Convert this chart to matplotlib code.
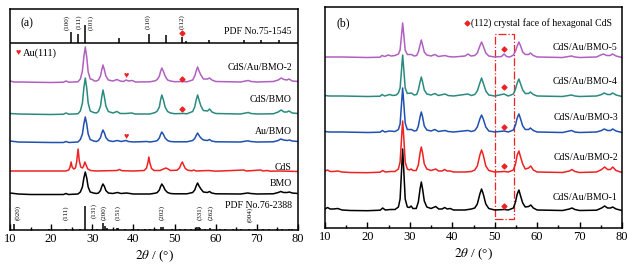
import numpy as np
import matplotlib
matplotlib.use('Agg')
import matplotlib.pyplot as plt
from matplotlib.patches import Rectangle

plt.rcParams['font.family'] = ['Liberation Serif', 'DejaVu Sans']
plt.rcParams['mathtext.fontset'] = 'stix'

# ---- panel (a) curves : (2theta, intensity above baseline) ----
bmo_a = [(10,2),(11,1.5),(12,1),(15,0.5),(20,0.5),(23,0.5),(23.6,1.5),(24.2,0.5),(26.5,1),(27.1,3),(27.6,8),
         (27.95,17),(28.3,23),(28.65,17),(29.0,8),(29.5,3),(30.3,2),(31.0,1.5),(31.5,2),(32.0,4.5),(32.3,8.5),
         (32.6,11),(32.95,8.5),(33.3,4.5),(33.9,2),(35,1.5),(36.1,2.5),(37,1.5),(38.3,2),(40,1),(44,1),(45.3,1.8),
         (45.8,2.5),(46.3,5),(46.6,8.5),(46.9,11),(47.3,8.5),(47.7,5),(48.3,2.5),(49,1.5),(50,1.2),(53,1.2),
         (54.4,2.5),(54.9,5),(55.25,9),(55.6,12),(55.95,9),(56.4,6),(57.0,3),(58.0,2.5),(58.5,3.5),(59,2),(60,1.2),
         (66,1),(67.8,2),(68.5,1.5),(70,1),(74,1.2),(75.2,2.5),(75.8,3.5),(76.5,2.5),(77.4,2.5),(77.9,3),(78.6,2),(80,1.5)]
cds_a = [(10,1),(15,1),(20,1),(23.5,1),(24.3,2),(24.6,5),(24.85,10),(25.1,5),(25.5,3),(25.9,4),(26.2,10),(26.55,23),
         (26.85,11),(27.2,5),(27.6,4),(27.9,6),(28.2,10),(28.5,7),(28.9,3),(29.6,1.5),(31,1),(36,1.5),(36.6,2.5),
         (37.2,1.3),(40,1),(42.6,1.5),(43.2,4),(43.5,9),(43.75,15),(44.0,9),(44.4,3.5),(45,1.5),(46.5,1.5),(47.3,3),
         (47.9,4),(48.4,3),(49,1.5),(50.6,1.8),(51.2,4),(51.6,8),(51.9,10),(52.2,7),(52.6,3.5),(53.2,1.8),(54.2,1.2),
         (54.7,2),(55.2,1),(58.3,1.5),(60,0.8),(66.8,2),(67.5,1),(70.9,2),(71.5,1),(72.5,1.5),(73.2,0.8),(75.5,1),(80,0.5)]
aubmo_a = [(10,2),(11,1.5),(12,1),(20,0.5),(23,0.5),(23.6,1.5),(24.3,0.5),(26.5,1),(27.1,3.5),(27.6,9),(27.95,19),
           (28.3,26),(28.65,19),(29.0,9),(29.5,3.5),(30.3,2),(31.0,1.5),(31.5,2.5),(32.0,5.5),(32.3,10),(32.6,13),
           (32.95,10),(33.3,5.5),(33.9,2.5),(35,1.5),(36.1,2.5),(37,1.5),(38.2,2.5),(38.8,1.5),(40,1),(43.3,1.5),
           (44,1),(45.3,1.8),(45.8,2.5),(46.3,5),(46.6,8.5),(46.9,11),(47.3,8.5),(47.7,5),(48.3,2.5),(49,1.5),(50,1.2),
           (53,1.2),(54.4,2.5),(54.9,4.5),(55.25,7.5),(55.6,10),(55.95,7.5),(56.4,5),(57.0,3),(58.0,2.5),(58.5,3.5),
           (59,2),(60,1.2),(66,1),(67.8,2.2),(68.5,1.5),(70,1),(74,1.2),(75.2,2.5),(75.8,4),(76.5,3),(77.4,2.5),
           (77.9,3),(78.6,2),(80,1.5)]
cdsbmo_a = [(10,1.5),(12,1),(20,0.5),(23,0.8),(23.6,2),(24.3,0.8),(26.5,1.2),(27.1,4),(27.6,12),(27.95,27),(28.3,37),
            (28.65,27),(29.0,12),(29.5,4),(30.3,2.5),(31.0,2),(31.5,3.5),(32.0,9),(32.3,18),(32.6,25),(32.95,18),
            (33.3,9),(33.9,3.5),(35,2),(36.0,3.5),(36.8,1.5),(38.2,1.5),(39.6,2),(40.4,1),(44,1),(45.3,2.5),(45.8,4),
            (46.3,8),(46.6,15),(46.9,20),(47.3,15),(47.7,8),(48.3,3.5),(49,2),(50,1.3),(52.2,1.5),(53,1.2),(54.4,3.5),
            (54.9,8),(55.25,15),(55.6,20),(55.95,15),(56.4,9),(57.0,4.5),(58.0,4),(58.5,6),(59.1,3),(60,1.5),(66,1),
            (67.9,2.5),(68.6,1.5),(70,1),(74,1.2),(75.2,3),(75.9,5),(76.6,3),(77.3,3),(77.8,4),(78.6,2),(80,1.5)]
cdsaubmo_a = [(10,2),(11,1),(12,1),(20,0.5),(23,0.8),(23.6,2),(24.3,0.8),(26.5,1.2),(27.1,4),(27.6,12),(27.95,26),
              (28.3,36),(28.65,26),(29.0,11),(29.5,4),(30.0,3.5),(30.5,2),(31.0,2),(31.5,3),(32.0,7),(32.3,13),(32.6,18),
              (32.95,13),(33.3,7),(33.9,3),(35,2),(36.0,3.5),(36.8,2),(37.6,1.5),(38.2,3),(38.8,2),(39.7,2.5),(40.5,1),
              (44,1.2),(45.3,2.2),(45.8,3.5),(46.3,7),(46.6,11.5),(46.9,15),(47.3,11.5),(47.7,7),(48.3,3),(49,2),
              (50,1.3),(52.2,1.5),(53,1.2),(54.4,3),(54.9,7),(55.25,12),(55.6,16),(55.95,12),(56.4,8),(57.0,4),
              (58.0,4),(58.5,5),(59.1,3),(60,1.5),(66,1),(67.9,2.5),(68.6,1.5),(70,1),(74,1.5),(75.2,3),(75.9,5),
              (76.6,3.5),(77.3,3),(77.8,4),(78.6,2),(80,1.5)]

names_a = ['BMO', 'CdS', 'Au/BMO', 'CdS/BMO', 'CdS/Au/BMO-2']
curves_a = [bmo_a, cds_a, aubmo_a, cdsbmo_a, cdsaubmo_a]

# PDF sticks
pdf_cds_pos = [24.8, 26.5, 28.2, 36.6, 43.7, 47.8, 51.8, 52.8, 58.3, 66.8, 70.9, 75.5]
pdf_cds_int = [11, 9, 18, 5, 9, 8, 6, 2.5, 3, 3, 3, 3]
pdf_bmo_pos = [10.9, 19.5, 23.5, 25.3, 27.0, 28.3, 29.9, 31.2, 32.6, 33.1, 33.6, 35.9, 36.3, 37.9, 39.6, 41.1,
               42.7, 44.1, 45.6, 46.8, 47.2, 49.4, 51.3, 52.6, 53.9, 55.5, 55.9, 56.3, 57.4, 58.5, 61.0, 62.3,
               64.3, 66.1, 68.2, 69.5, 71.4, 73.0, 75.0, 76.1, 77.8, 78.6]
pdf_bmo_int = [6, 1, 1.5, 1, 1, 24, 1, 1, 7, 4, 2, 2, 2, 1, 1.5, 1,
               1, 1, 1, 3, 3, 1, 1, 1, 1, 3, 3, 2, 1, 2, 1, 1,
               1, 1, 1.5, 1, 1, 1, 1, 1.5, 1.5, 1]
cds_hkl = ['(100)', '(111)', '(101)', '(110)', '(112)']
cds_hkl_x = [23.9, 26.7, 29.6, 43.6, 51.7]
bmo_hkl = ['(020)', '(111)', '(131)', '(200)', '(151)', '(202)', '(331)', '(262)', '(004)']
bmo_hkl_x = [11.9, 23.5, 30.4, 32.9, 36.3, 46.9, 56.1, 58.9, 68.3]
bmo_hkl_y = [17, 17, 20, 18, 17, 17, 17, 17, 16]

# ---- panel (b) curves ----
s1_b = [(10,2),(10.6,3.5),(11.2,2),(12,2),(13,2.5),(14,1),(16,0.5),(20,0.3),(23,0.8),(23.6,3),(24.2,1),(25.5,1.5),
        (26.5,1.5),(27.3,4),(27.7,12),(28.0,37),(28.3,62),(28.6,38),(28.9,12),(29.4,4),(29.9,3.5),(30.3,5),(30.7,2.5),
        (31.5,2.5),(32.0,9),(32.4,22),(32.7,29),(33.0,22),(33.4,10),(34,4),(35,2.5),(36.1,4.5),(36.8,2),(37.6,2),
        (38.2,3.5),(38.8,2),(39.5,2.5),(40.3,1),(43,1),(44.5,2),(45.3,3),(45.9,7),(46.5,17),(46.9,22),(47.3,17),
        (47.9,7),(48.6,2.5),(50,1),(52.3,1.5),(53.2,1),(54.4,3),(54.9,9),(55.3,17),(55.7,21),(56.1,15),(56.6,8),
        (57.2,4),(58.0,4.5),(58.5,6),(59.1,3),(60,1),(66,0.5),(67.6,2),(68.2,3),(68.9,1.5),(70,0.5),(74,0.8),
        (75.2,3),(75.9,5),(76.6,3),(77.3,3),(77.8,4),(78.6,2),(80,0.5)]
s2_b = [(10,2),(10.6,3),(11.2,1.5),(12,1.5),(13,2),(14,1),(16,0.5),(20,0.3),(23,0.8),(23.6,2.5),(24.2,1),(25.5,1.5),
        (26.5,1.5),(27.3,4),(27.7,11),(28.0,32),(28.3,52),(28.6,33),(28.9,11),(29.4,4),(29.9,3),(30.3,4),(30.7,2.5),
        (31.5,2.5),(32.0,8),(32.4,20),(32.7,26),(33.0,20),(33.4,9),(34,4),(35,2.5),(36.1,4),(36.8,2),(37.6,2),
        (38.2,3.5),(38.8,2),(39.5,2),(40.3,1),(43,1),(44.5,1.5),(45.3,3),(45.9,7),(46.5,18),(46.9,23),(47.3,18),
        (47.9,7),(48.6,2.5),(50,1),(52.3,1.5),(53.2,1),(54.4,3),(54.9,9),(55.3,18),(55.7,22),(56.1,16),(56.6,9),
        (57.2,4),(58.0,5),(58.5,7),(59.1,3),(60,1),(66,0.5),(67.6,2),(68.2,3.5),(68.9,1.5),(70,0.5),(74,1),
        (75.2,3.5),(75.9,6),(76.6,3.5),(77.3,3.5),(77.8,6),(78.6,2.5),(80,0.5)]
s3_b = [(10,1.5),(11,1),(14,1),(20,0.5),(23,0.8),(23.5,2.5),(24.1,1),(25.2,2),(26.5,1.5),(27.3,3.5),(27.7,9),(28.0,27),
        (28.3,45),(28.6,28),(28.9,10),(29.4,3.5),(30.4,3.5),(31.0,2),(31.6,2.5),(32.0,7),(32.4,16),(32.7,21),(33.0,16),
        (33.4,7),(34,3),(35,2),(35.9,3.5),(36.7,1.5),(38.3,2.5),(39,1.5),(40.3,1),(43.7,2.5),(44.5,1.5),(45.3,2.5),
        (45.9,6),(46.5,14),(46.9,18),(47.3,14),(47.9,6),(48.6,2),(50,1),(52.2,2),(53.2,1),(54.4,3),(54.9,8),(55.3,15),
        (55.7,19),(56.1,14),(56.6,7),(57.2,3.5),(58.0,3.5),(58.4,5),(59.1,2.5),(60,1),(66,0.5),(68.1,2.5),(68.9,1),
        (70,0.5),(74,1),(75.2,2.5),(75.8,4),(76.6,2.5),(77.3,2.5),(77.8,4),(78.6,2),(80,0.5)]
s4_b = [(10,1.5),(11,1),(14,1),(20,0.5),(23,0.8),(23.4,2.5),(24.1,1),(25.2,2.5),(26,1.5),(26.8,2),(27.3,4),(27.7,9),
        (28.0,25),(28.3,42),(28.6,26),(28.9,9),(29.4,3.5),(30.4,4),(31.0,2),(31.6,2.5),(32.0,7),(32.4,15),(32.7,20),
        (33.0,15),(33.4,7),(34,3),(35,2),(35.9,3.5),(36.7,1.5),(38.3,3),(39,1.5),(40.3,1),(43.7,3),(44.5,1.5),
        (45.3,2.5),(45.9,6),(46.5,14),(46.9,19),(47.3,14),(47.9,6),(48.6,2),(50,1),(52.2,3),(53.2,1),(54.4,3),
        (54.9,8),(55.3,14),(55.7,18),(56.1,13),(56.6,7),(57.2,3.5),(58.0,3.5),(58.4,5),(59.1,2.5),(60,1),(66,0.5),
        (68.1,2),(68.9,1),(70,0.5),(74,1),(75.2,2.5),(75.8,4),(76.6,2.5),(77.3,2.5),(77.8,4),(78.6,2),(80,0.5)]
s5_b = [(10,1),(14,1),(20,0.5),(23,0.8),(23.4,2.5),(24.1,1.5),(24.9,3),(25.6,2),(26.5,2.5),(27.3,4),(27.7,8),
        (28.0,21),(28.3,35),(28.6,22),(28.9,8),(29.4,3.5),(30.4,3.5),(31.0,2),(31.6,2.5),(32.0,6),(32.4,13),(32.7,18),
        (33.0,13),(33.4,6),(34,3),(35,2),(35.9,3.5),(36.7,1.5),(38.3,2.5),(39,1.5),(40.3,1),(43.0,2),(43.7,4),
        (44.4,2),(45.3,2.5),(45.9,5),(46.5,12),(46.9,16),(47.3,12),(47.9,5),(48.6,2),(50,1),(51.6,1.5),(52.2,4),
        (52.8,1.5),(53.6,1),(54.4,3),(54.9,7),(55.3,12),(55.7,16),(56.1,12),(56.6,6),(57.2,3.5),(58.0,3.5),(58.4,5),
        (59.1,2.5),(60,1),(66,0.5),(68.1,2),(68.9,1),(70,0.5),(74,1),(75.0,3),(75.6,4),(76.4,2.5),(77.2,2.5),
        (77.8,4),(78.6,2),(80,0.5)]

names_b = ['CdS/Au/BMO-1', 'CdS/Au/BMO-2', 'CdS/Au/BMO-3', 'CdS/Au/BMO-4', 'CdS/Au/BMO-5']
curves_b = [s1_b, s2_b, s3_b, s4_b, s5_b]

colors = ['#000000', '#ee2222', '#2050b0', '#2a8a80', '#b060c0']

# layout (in axis units, bottom-up)
offsets_a = [35, 58, 87, 115, 147]
label_y_a = [47, 63, 99, 130, 162]
offsets_b = [17, 55, 95, 131, 170]
label_y_b = [30, 70, 110, 146, 181]

fig = plt.figure(figsize=(6.32, 2.67), dpi=100)
ax1 = fig.add_axes([10/632, 37/267, 288/632, 221/267])
ax2 = fig.add_axes([325/632, 39/267, 297/632, 221/267])

for ax in (ax1, ax2):
    ax.set_xlim(10, 80)
    ax.set_ylim(0, 221)
    ax.set_yticks([])
    ax.set_xticks(range(10, 81, 10))
    ax.set_xticks(range(15, 80, 10), minor=True)
    ax.tick_params(axis='x', direction='in', length=4, width=1, labelsize=9, pad=2)
    ax.tick_params(axis='x', which='minor', direction='in', length=2.5, width=1)
    for sp in ax.spines.values():
        sp.set_linewidth(1.1)
    ax.set_xlabel(r'$2\theta$ / (°)', fontsize=9.5, labelpad=3)

# panel (a)
for c, off, col, nm, ly in zip(curves_a, offsets_a, colors, names_a, label_y_a):
    d = np.array(c)
    ax1.plot(d[:, 0], d[:, 1] + off, color=col, lw=1.1)
    ax1.text(78.5, ly, nm, ha='right', va='center', fontsize=7)

ax1.axhline(187, color='black', lw=1.1)
ax1.vlines(pdf_cds_pos, 187, 187 + np.array(pdf_cds_int), color='black', lw=1.1)
ax1.vlines(pdf_bmo_pos, 0, pdf_bmo_int, color='black', lw=1.1)
for t, x in zip(cds_hkl, cds_hkl_x):
    ax1.text(x, 208, t, rotation=90, ha='center', va='center', fontsize=5)
for t, x, y in zip(bmo_hkl, bmo_hkl_x, bmo_hkl_y):
    ax1.text(x, y, t, rotation=90, ha='center', va='center', fontsize=5)
ax1.text(78.5, 199, 'PDF No.75-1545', ha='right', va='center', fontsize=7)
ax1.text(78.5, 25, 'PDF No.76-2388', ha='right', va='center', fontsize=7)
ax1.text(12.6, 207, '(a)', ha='left', va='center', fontsize=8.5)
ax1.text(11.4, 177, '\u2665', color='#ee2222', ha='left', va='center', fontsize=6.5)
ax1.text(13.2, 177, 'Au(111)', ha='left', va='center', fontsize=7.5)

heart_x = [38.3, 38.2]
heart_y = [154, 93]
for x, y in zip(heart_x, heart_y):
    ax1.text(x, y, '\u2665', color='#ee2222', ha='center', va='center', fontsize=6.5)
dia_a_x = [51.7, 51.7, 51.7]
dia_a_y = [151, 121, 197]
ax1.scatter(dia_a_x, dia_a_y, marker='D', s=6, color='#ee2222', zorder=5)

# panel (b)
for c, off, col, nm, ly in zip(curves_b, offsets_b, colors, names_b, label_y_b):
    d = np.array(c)
    ax2.plot(d[:, 0], d[:, 1] + off, color=col, lw=1.1)
    ax2.text(79.0, ly, nm, ha='right', va='center', fontsize=7)

dia_b_x = [52.2] * 5
dia_b_y = [22, 62, 101, 141, 179]
ax2.scatter(dia_b_x, dia_b_y, marker='D', s=6, color='#ee2222', zorder=5)
ax2.add_patch(Rectangle((50, 9), 4.5, 185, fill=False, ec='#ee2222', lw=0.9, ls='-.'))
ax2.text(12.8, 205, '(b)', ha='left', va='center', fontsize=8.5)
ax2.scatter([43.5], [205], marker='D', s=6, color='#ee2222')
ax2.text(44.5, 205, '(112) crystal face of hexagonal CdS', ha='left', va='center', fontsize=7)

fig.savefig('out.png', dpi=100)
